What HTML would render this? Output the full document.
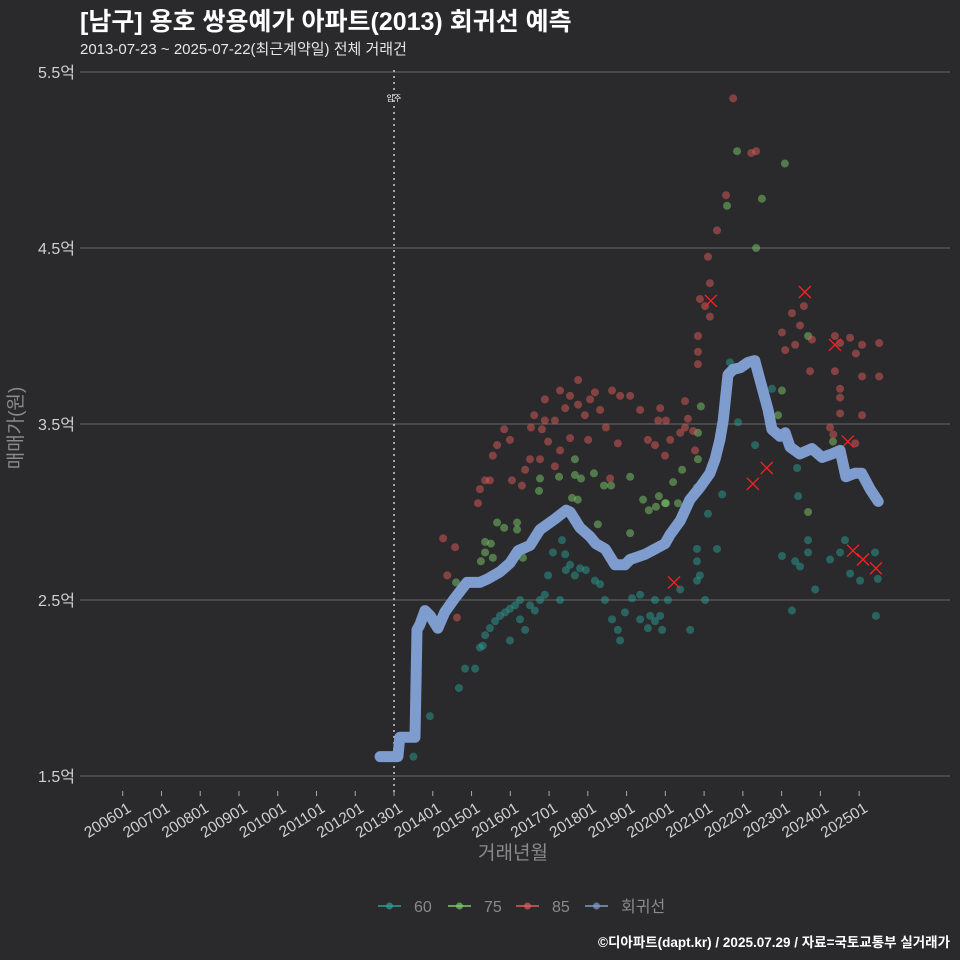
<!DOCTYPE html>
<html><head><meta charset="utf-8">
<style>
html,body{margin:0;padding:0;background:#2a2a2c;}
svg{display:block;font-family:"Liberation Sans","Noto Sans CJK KR",sans-serif;}
</style></head>
<body>
<svg id="chart" width="960" height="960" viewBox="0 0 960 960" xmlns="http://www.w3.org/2000/svg">
<rect width="960" height="960" fill="#2a2a2c"/>
<text x="80" y="30" fill="#ffffff" font-size="25" font-weight="bold">[남구] 용호 쌍용예가 아파트(2013) 회귀선 예측</text>
<text x="80" y="54" fill="#e6e6e6" font-size="15">2013-07-23 ~ 2025-07-22(최근계약일) 전체 거래건</text>
<g id="grid"></g>
<g id="xaxis"></g>
<g id="marks"></g>
<text x="513" y="859" fill="#8a8a8a" font-size="19" text-anchor="middle">거래년월</text>
<text transform="translate(22,428) rotate(-90)" fill="#8a8a8a" font-size="19" text-anchor="middle">매매가(원)</text>
<g id="legend"></g>
<text x="950" y="947" fill="#ffffff" font-size="13.5" font-weight="bold" text-anchor="end">©디아파트(dapt.kr) / 2025.07.29 / 자료=국토교통부 실거래가</text>
</svg>
<script>
// months since 2006-01 ; values in 억
const yTicks = [1.5, 2.5, 3.5, 4.5, 5.5];
const xTickLabels = ["200601","200701","200801","200901","201001","201101","201201","201301","201401","201501","201601","201701","201801","201901","202001","202101","202201","202301","202401","202501"];
const moveInMonth = 84;
const regMonths = [79.7,85.2,85.8,90.5,91.1,92,93.6,95.2,97.6,99.7,102.8,106.6,110.6,113,116.8,119.9,122.4,126.1,129.2,133.8,137.3,138.5,141.6,144.7,146.5,149.4,152.4,155.5,157.1,161.8,164.8,167.9,169.4,172.6,175.6,178.7,181.8,183.4,184.9,185.9,187.4,189,191.2,193.6,195.7,197.3,199.8,201,203.5,205.1,206.6,209.6,213.4,216.5,219.6,222.1,223.9,226.7,228.8,231.4,233.9];
const regValues = [1.61,1.61,1.72,1.72,2.33,2.36,2.44,2.41,2.34,2.43,2.51,2.60,2.60,2.62,2.66,2.71,2.78,2.81,2.90,2.96,3.01,3.00,2.91,2.86,2.82,2.79,2.70,2.70,2.73,2.76,2.79,2.82,2.87,2.95,3.07,3.14,3.22,3.30,3.41,3.52,3.78,3.81,3.82,3.85,3.86,3.75,3.58,3.47,3.43,3.45,3.37,3.33,3.36,3.31,3.33,3.35,3.20,3.22,3.22,3.13,3.06];
const s60Months = [90,95.1,104.1,106,109.1,110.6,111.5,112.2,113.7,115.3,116.8,118.4,119.9,121.5,123,126.1,127.6,129.2,130.7,131.7,133.2,136,137.2,138.5,140,141.6,143.4,146.2,147.8,149.3,151.5,153.3,155.5,157.7,160.2,162.6,163.3,164.8,167,168.8,172.6,177.8,177.8,177.8,166.4,185.6,181.2,184,188,190.5,195.8,201,208.8,209.1,212.2,212.2,204.1,208.2,209.7,207.2,222.1,223.6,225.2,228.3,232.9,233.8,233.2,219,214.4,123,119.9,124.6,135.4,137,160.2,164.8,178.7,175.7,180.3,154];
const s60Values = [1.61,1.84,2.00,2.11,2.11,2.23,2.24,2.30,2.34,2.38,2.41,2.43,2.45,2.47,2.50,2.47,2.44,2.50,2.53,2.64,2.77,2.84,2.67,2.70,2.64,2.68,2.67,2.61,2.59,2.50,2.39,2.33,2.43,2.51,2.53,2.34,2.41,2.38,2.33,2.50,2.56,2.61,2.79,2.72,2.41,3.10,2.99,2.79,3.85,3.51,3.38,3.70,3.25,3.09,2.84,2.77,2.75,2.72,2.69,2.44,2.77,2.84,2.65,2.61,2.77,2.62,2.41,2.73,2.56,2.39,2.27,2.33,2.50,2.76,2.39,2.50,2.64,2.33,2.50,2.27];
const s75Months = [103.2,110.9,112.2,112.2,114,114.6,115.9,118.1,122.1,122.1,123.9,129.2,128.9,135.1,140,140,141.9,145.9,139.1,140.9,147.1,149,151.2,157.1,157.1,161.1,162.9,165.1,166,167.9,179,178.1,178.1,177.8,173.2,170.4,168.2,171.9,190.2,205,197.9,187.1,196.1,212.2,204.1,202.9,219.9,219,212.2];
const s75Values = [2.60,2.72,2.77,2.83,2.82,2.74,2.94,2.91,2.94,2.90,2.74,3.19,3.12,3.20,3.30,3.21,3.19,3.22,3.08,3.07,2.93,3.15,3.15,3.20,2.88,3.07,3.01,3.03,3.09,3.05,3.60,3.45,3.30,3.14,3.24,3.17,3.05,3.05,5.05,4.98,4.78,4.74,4.50,4.00,3.69,3.55,3.40,3.33,3.00];
const s85Months = [99.2,102.9,100.5,103.5,110,110.6,112.2,113.7,114.6,115.9,118.1,119.9,120.5,123.6,124.6,126.1,126.4,127.4,129.2,129.8,130.7,131.7,133.8,135.4,137,138.5,141,143.1,144.1,146.2,147.8,149.6,150.9,153.3,157.1,160.2,162.6,164.8,165.8,166.4,167.9,169.5,135.4,138.5,141,144.7,151.5,154,130.7,133.8,189,196.1,194.6,186.8,184,181.2,181.8,178.7,180.3,178.1,178.1,178.1,174.1,175,174.1,176.6,177.2,172.6,168.2,181.8,210.9,207.2,209.7,213.4,220.5,225.2,227,220.5,212.8,204.1,208.2,205.1,222.1,228.9,234.2,228.9,234.2,222.1,222.1,222.1,219,220,228.9,226.8];
const s85Values = [2.85,2.80,2.64,2.40,3.05,3.13,3.18,3.18,3.32,3.38,3.47,3.41,3.18,3.15,3.24,3.30,3.48,3.55,3.30,3.47,3.52,3.40,3.26,3.35,3.59,3.42,3.61,3.55,3.41,3.68,3.58,3.48,3.19,3.39,3.66,3.58,3.41,3.38,3.52,3.59,3.32,3.41,3.69,3.66,3.75,3.64,3.69,3.66,3.64,3.52,5.35,5.05,5.04,4.80,4.60,4.45,4.30,4.21,4.17,4.00,3.91,3.84,3.63,3.53,3.48,3.46,3.35,3.45,3.52,4.11,4.17,4.13,4.06,3.98,4.00,3.99,3.90,3.80,3.80,4.02,3.95,3.92,3.96,3.95,3.96,3.77,3.77,3.70,3.65,3.56,3.48,3.44,3.55,3.39];
const crossMonths = [182.1,211.2,220.5,224.5,195.1,199.4,170.7,226.1,229.2,233.2];
const crossValues = [4.20,4.25,3.95,3.40,3.16,3.25,2.60,2.78,2.73,2.68];

const NS = "http://www.w3.org/2000/svg";
const X0 = 122.7, PXM = 38.76/12, Y15 = 776, PXV = 176;
function xs(m){ return X0 + m*PXM; }
function ys(v){ return Y15 - (v-1.5)*PXV; }
function mk(tag, attrs, parent){ const e=document.createElementNS(NS,tag); for(const k in attrs) e.setAttribute(k,attrs[k]); parent.appendChild(e); return e; }

const grid=document.getElementById('grid');
yTicks.forEach(v=>{
  const l=mk('line',{x1:80,x2:950,y1:ys(v),y2:ys(v),stroke:'#5c5c5c','stroke-width':1.3},grid);
  
  
  const t=mk('text',{x:75,y:ys(v)+6,fill:'#d0d0d0','font-size':16,'text-anchor':'end'},grid);
  t.textContent=v.toFixed(1)+'억';
  
  
});
const xa=document.getElementById('xaxis');
xTickLabels.forEach((lab,i)=>{
  const x=xs(i*12);
  const tk=mk('line',{x1:x,x2:x,y1:791,y2:796,stroke:'#aaaaaa','stroke-width':1},xa);
  
  
  const t=mk('text',{transform:`translate(${x+4},${802}) rotate(-32)`,fill:'#d0d0d0','font-size':15.5,'text-anchor':'end','dominant-baseline':'hanging'},xa);
  t.textContent=lab;
  
  
});
const marks=document.getElementById('marks');
const vx=xs(moveInMonth);
const vl=mk('line',{x1:vx,x2:vx,y1:70,y2:796,stroke:'#cfcfcf','stroke-width':1.5,'stroke-dasharray':'2,4'},marks);


const vt=mk('text',{x:vx,y:101,fill:'#ffffff','font-size':8,'text-anchor':'middle'},marks);
vt.textContent='입주';



function dots(ms,vs,color,name){
  ms.forEach((m,i)=>{
    const c=mk('circle',{cx:xs(m),cy:ys(vs[i]),r:4,fill:color,'fill-opacity':0.5},marks);
    
    
  });
}
dots(s60Months,s60Values,'#2a9e94','point-60');
dots(s75Months,s75Values,'#7cc96a','point-75');
dots(s85Months,s85Values,'#e05a5a','point-85');
crossMonths.forEach((m,i)=>{
  const x=xs(m), y=ys(crossValues[i]);
  const p=mk('path',{d:`M${x-6},${y-6}L${x+6},${y+6}M${x-6},${y+6}L${x+6},${y-6}`,stroke:'#ff2020','stroke-width':1.3},marks);
  
  
});
const d=regMonths.map((m,i)=>(i?'L':'M')+xs(m).toFixed(1)+','+ys(regValues[i]).toFixed(1)).join('');
const rl=mk('path',{d:d,fill:'none',stroke:'#7e9ccd','stroke-width':11,'stroke-linecap':'round','stroke-linejoin':'round'},marks);



const lg=document.getElementById('legend');
const legendLabels=['60','75','85','회귀선'];
const legendColors=['#2a9e94','#7cc96a','#e05a5a','#7e9ccd'];
const legendX=[378,448,516,585];
legendLabels.forEach((lab,i)=>{
  const g=mk('g',{},lg);
  
  
  mk('line',{x1:legendX[i],x2:legendX[i]+23,y1:906,y2:906,stroke:legendColors[i],'stroke-width':1.5},g);
  mk('circle',{cx:legendX[i]+11.5,cy:906,r:3.5,fill:legendColors[i],'fill-opacity':0.7},g);
  const t=mk('text',{x:legendX[i]+36,y:912,fill:'#8a8a8a','font-size':16},g);
  t.textContent=lab;
});
</script>
</body></html>
